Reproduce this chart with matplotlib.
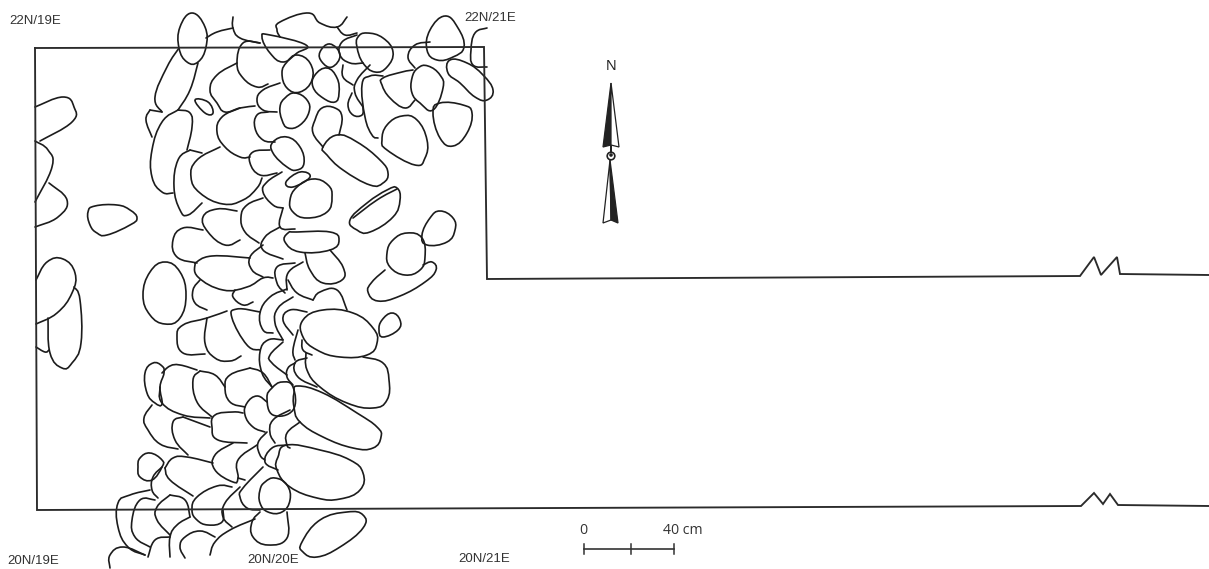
import matplotlib
matplotlib.use("Agg")
import matplotlib.pyplot as plt
from matplotlib.path import Path
from matplotlib.patches import PathPatch, Circle, Polygon

plt.rcParams['font.family'] = ['Liberation Sans', 'DejaVu Sans']

frame_line = [(35, 48), (484, 47), (487, 279), (1080, 276), (1094, 257), (1101, 275),
              (1117, 257), (1120, 274), (1209, 275)]
frame_left = [(35, 48), (37, 510), (1081, 506), (1094, 493), (1103, 504), (1110, 494),
              (1118, 505), (1209, 506)]

closed_stones = [
    [(192, 13), (205, 27), (206, 47), (198, 62), (187, 62), (179, 48), (180, 27)],
    [(262, 37), (270, 35), (306, 45), (297, 53), (283, 62), (270, 53)],
    [(297, 55), (310, 63), (312, 80), (300, 92), (287, 88), (282, 73), (287, 62)],
    [(330, 44), (340, 55), (332, 67), (322, 62), (320, 52)],
    [(367, 33), (383, 38), (393, 52), (387, 67), (375, 72), (363, 63), (357, 47), (358, 37)],
    [(327, 68), (337, 78), (339, 93), (335, 102), (323, 98), (313, 87), (315, 75)],
    [(428, 66), (440, 75), (443, 88), (433, 110), (420, 103), (412, 93), (412, 78), (418, 68)],
    [(445, 16), (458, 28), (464, 47), (453, 57), (437, 60), (427, 50), (430, 30)],
    [(450, 60), (467, 63), (483, 75), (493, 90), (487, 100), (475, 97), (460, 83), (448, 73)],
    [(433, 113), (440, 103), (463, 105), (472, 113), (467, 133), (453, 146), (440, 138)],
    [(402, 116), (417, 120), (427, 140), (425, 158), (415, 165), (387, 150), (382, 140), (387, 125)],
    [(337, 135), (357, 142), (380, 160), (388, 173), (383, 183), (370, 185), (343, 170), (327, 155), (323, 147)],
    [(295, 93), (307, 100), (309, 112), (300, 125), (288, 128), (282, 120), (280, 107), (285, 98)],
    [(195, 100), (208, 102), (213, 113), (205, 113)],
    [(287, 137), (300, 147), (304, 163), (297, 170), (287, 167), (273, 153), (273, 142)],
    [(300, 172), (310, 177), (293, 187), (286, 182)],
    [(313, 179), (328, 185), (332, 197), (327, 212), (307, 218), (293, 212), (290, 200), (297, 187)],
    [(88, 212), (95, 206), (117, 205), (130, 210), (137, 218), (130, 225), (107, 235), (97, 233), (90, 225)],
    [(397, 188), (400, 200), (393, 217), (370, 232), (357, 230), (350, 220), (367, 203), (387, 190)],
    [(440, 211), (453, 218), (455, 230), (447, 242), (427, 245), (422, 235), (430, 218)],
    [(407, 233), (422, 238), (425, 257), (420, 270), (405, 275), (390, 267), (387, 253), (393, 240)],
    [(297, 232), (330, 232), (339, 240), (330, 250), (300, 252), (285, 242), (288, 233)],
    [(165, 262), (180, 272), (186, 295), (180, 318), (165, 324), (150, 315), (143, 295), (150, 272)],
    [(323, 310), (353, 313), (373, 328), (377, 343), (367, 355), (340, 357), (317, 350), (303, 337), (303, 320)],
    [(392, 313), (400, 320), (398, 330), (383, 337), (379, 330), (382, 320)],
    [(153, 363), (162, 366), (164, 373), (160, 387), (162, 404), (155, 403), (147, 393), (145, 373)],
    [(282, 382), (293, 387), (293, 410), (273, 415), (267, 398), (272, 388)],
    [(298, 386), (323, 393), (357, 413), (377, 427), (381, 437), (373, 448), (353, 448), (323, 437), (300, 422), (294, 407), (294, 393)],
    [(287, 445), (320, 450), (350, 460), (363, 473), (360, 490), (340, 499), (317, 498), (290, 487), (277, 470), (278, 457)],
    [(150, 453), (162, 460), (162, 467), (152, 480), (140, 477), (138, 467), (140, 458)],
    [(275, 478), (287, 485), (290, 500), (282, 512), (268, 512), (260, 503), (260, 490), (265, 482)],
    [(347, 512), (363, 515), (363, 528), (340, 547), (317, 557), (303, 552), (302, 542), (320, 520)],
]

open_arcs = [
    [(179, 48), (167, 67), (155, 97), (162, 112)],
    [(198, 63), (190, 90), (178, 110)],
    [(206, 38), (217, 32), (233, 28)],
    [(233, 17), (233, 28), (240, 38), (260, 43)],
    [(260, 43), (243, 43), (237, 63), (243, 78), (257, 87), (268, 84)],
    [(280, 37), (277, 30), (280, 22), (308, 13), (320, 23), (337, 27), (347, 17)],
    [(337, 27), (345, 35), (357, 33)],
    [(357, 35), (342, 42), (340, 55), (350, 63), (363, 63)],
    [(343, 65), (343, 77), (353, 85)],
    [(352, 93), (348, 105), (353, 115), (362, 115), (363, 107)],
    [(370, 65), (357, 80), (355, 93), (363, 107)],
    [(383, 76), (370, 76), (362, 85), (365, 117), (372, 135), (378, 138)],
    [(413, 70), (402, 72), (383, 78), (382, 85), (390, 98), (405, 108), (415, 100)],
    [(430, 42), (415, 45), (408, 57), (415, 68)],
    [(487, 28), (475, 33), (471, 50), (473, 65), (487, 67)],
    [(323, 147), (313, 133), (315, 120), (322, 108), (335, 108), (342, 117), (339, 135)],
    [(280, 83), (263, 90), (257, 100), (263, 110), (277, 112)],
    [(237, 63), (217, 75), (210, 90), (217, 103), (225, 112), (240, 108), (255, 106)],
    [(240, 108), (222, 117), (217, 132), (225, 147), (240, 157), (250, 157)],
    [(268, 112), (257, 115), (255, 128), (263, 140), (275, 142)],
    [(270, 150), (253, 152), (250, 163), (260, 175), (277, 173)],
    [(178, 110), (162, 122), (152, 150), (152, 177), (162, 192), (173, 193)],
    [(178, 110), (190, 113), (192, 127), (187, 150)],
    [(150, 110), (146, 120), (152, 137)],
    [(150, 110), (162, 112)],
    [(190, 150), (178, 160), (174, 187), (180, 210), (188, 215), (202, 203)],
    [(190, 150), (202, 153)],
    [(220, 147), (197, 160), (191, 177), (200, 193), (223, 204), (243, 200), (257, 188), (262, 178)],
    [(282, 172), (267, 182), (263, 192), (273, 205), (283, 208)],
    [(353, 218), (377, 200), (397, 189)],
    [(423, 265), (432, 262), (436, 270), (425, 282), (400, 296), (378, 301), (368, 292), (372, 282), (385, 270)],
    [(237, 211), (217, 209), (203, 217), (208, 232), (225, 245), (240, 240)],
    [(203, 230), (183, 228), (173, 240), (177, 257), (197, 263)],
    [(195, 263), (212, 256), (250, 258)],
    [(195, 263), (198, 277), (223, 290), (247, 287), (263, 278), (273, 278)],
    [(263, 198), (247, 205), (241, 217), (245, 232), (259, 243)],
    [(283, 208), (280, 227), (295, 229)],
    [(280, 227), (265, 237), (263, 250), (283, 259)],
    [(263, 245), (250, 257), (252, 270), (263, 277)],
    [(330, 250), (343, 267), (342, 280), (323, 283), (310, 270), (305, 253)],
    [(303, 262), (288, 273), (287, 290)],
    [(295, 263), (277, 267), (277, 283), (285, 293)],
    [(200, 280), (193, 290), (195, 303), (207, 310)],
    [(235, 290), (233, 297), (243, 305), (253, 302)],
    [(287, 289), (270, 297), (260, 313), (263, 330), (273, 333)],
    [(293, 297), (278, 308), (275, 323), (283, 340)],
    [(288, 280), (297, 293), (313, 300)],
    [(313, 300), (320, 292), (337, 290), (347, 310)],
    [(307, 312), (290, 310), (283, 320), (293, 335)],
    [(363, 357), (383, 363), (389, 380), (387, 400), (373, 408), (347, 403), (320, 387), (307, 370), (306, 353)],
    [(298, 330), (293, 350), (295, 360)],
    [(302, 340), (303, 350), (312, 355)],
    [(307, 358), (295, 363), (298, 377), (317, 387)],
    [(295, 363), (288, 368), (287, 377), (293, 385)],
    [(283, 340), (268, 340), (260, 352), (262, 373), (272, 387)],
    [(283, 342), (270, 355), (272, 363), (287, 375)],
    [(227, 311), (207, 318), (183, 325), (177, 337), (183, 353), (205, 354)],
    [(207, 318), (205, 343), (215, 358), (230, 361), (241, 356)],
    [(260, 312), (237, 309), (232, 318), (247, 345), (260, 350)],
    [(250, 368), (230, 375), (225, 387), (230, 402), (245, 407)],
    [(250, 368), (263, 373), (272, 387)],
    [(162, 373), (170, 366), (180, 365), (197, 370)],
    [(160, 387), (162, 403), (183, 415), (210, 418)],
    [(200, 371), (193, 380), (197, 402), (212, 417)],
    [(200, 371), (215, 375), (225, 387)],
    [(267, 402), (257, 396), (247, 403), (245, 415), (253, 427), (265, 432)],
    [(300, 422), (287, 433), (287, 445), (290, 448)],
    [(290, 410), (273, 420), (270, 433), (275, 443)],
    [(267, 432), (258, 443), (260, 455), (265, 460)],
    [(287, 445), (272, 448), (265, 462), (278, 470)],
    [(152, 405), (144, 418), (148, 430), (160, 444), (178, 449)],
    [(183, 417), (173, 422), (175, 440), (188, 455)],
    [(183, 417), (210, 427)],
    [(243, 413), (233, 412), (215, 415), (212, 427), (218, 440), (247, 443)],
    [(233, 443), (215, 455), (215, 470), (233, 482), (238, 478), (238, 460), (257, 445)],
    [(238, 478), (245, 480)],
    [(165, 468), (173, 458), (187, 457), (213, 463)],
    [(165, 468), (170, 480), (193, 496)],
    [(162, 467), (153, 477), (152, 490), (158, 498)],
    [(150, 490), (130, 495), (118, 503), (118, 527), (128, 547), (145, 555)],
    [(155, 500), (140, 500), (132, 520), (135, 537), (150, 547)],
    [(170, 495), (157, 507), (157, 520), (170, 535)],
    [(170, 495), (185, 500), (190, 517)],
    [(232, 487), (217, 486), (197, 497), (192, 510), (197, 520), (208, 525), (222, 522), (223, 510)],
    [(240, 487), (225, 503), (223, 517), (232, 527)],
    [(263, 467), (243, 488), (240, 497), (247, 508), (260, 510)],
    [(260, 512), (252, 522), (253, 537), (268, 545), (287, 538), (287, 512)],
    [(255, 519), (230, 530), (215, 542), (210, 555)],
    [(215, 537), (200, 531), (185, 537), (180, 547), (185, 558)],
    [(190, 517), (177, 525), (170, 537), (170, 557)],
    [(170, 537), (155, 540), (148, 557)],
    [(145, 555), (123, 547), (110, 555), (110, 568)],
    # stones cut by the west edge
    [(35, 107), (63, 97), (74, 107), (72, 122), (40, 141)],
    [(35, 141), (48, 150), (52, 167), (35, 202)],
    [(49, 183), (67, 200), (58, 217), (35, 227)],
    [(36, 280), (47, 262), (63, 259), (75, 273), (72, 293), (57, 313), (36, 324)],
    [(74, 287), (80, 300), (81, 343), (72, 363), (62, 368), (50, 353), (48, 318)],
    [(36, 347), (45, 352), (49, 350)],
]

grid_labels = ["22N/19E", "22N/21E", "20N/19E", "20N/20E", "20N/21E"]
grid_label_x = [9, 464, 7, 247, 458]
grid_label_y = [21, 18, 561, 560, 559]

scale_ticks = [584, 631, 674]
scale_labels = ["0", "40 cm"]

arrow_top_black = [(611, 83), (603, 147), (611, 145), (611, 152)]
arrow_top_white = [(611, 83), (619, 147), (611, 145)]
arrow_low_white = [(610, 160), (603, 223), (611, 220)]
arrow_low_black = [(610, 160), (618, 223), (611, 220)]

INK = '#2b2b2b'
TENSION = 4.6


def smooth_path(points, closed):
    # catmull-rom through the traced points, written as bezier segments
    n = len(points)
    verts = [points[0]]
    codes = [Path.MOVETO]
    for i in range(n if closed else n - 1):
        if closed:
            p0, p1, p2, p3 = points[i - 1], points[i], points[(i + 1) % n], points[(i + 2) % n]
        else:
            p0, p1, p2, p3 = points[max(i - 1, 0)], points[i], points[i + 1], points[min(i + 2, n - 1)]
        c1 = (p1[0] + (p2[0] - p0[0]) / TENSION, p1[1] + (p2[1] - p0[1]) / TENSION)
        c2 = (p2[0] - (p3[0] - p1[0]) / TENSION, p2[1] - (p3[1] - p1[1]) / TENSION)
        verts.extend([c1, c2, p2])
        codes.extend([Path.CURVE4] * 3)
    return Path(verts, codes)


fig = plt.figure(figsize=(12.09, 5.69), dpi=100)
ax = fig.add_axes([0, 0, 1, 1])
ax.set_xlim(0, 1209)
ax.set_ylim(569, 0)
ax.axis('off')

for line in (frame_line, frame_left):
    ax.plot([p[0] for p in line], [p[1] for p in line], color=INK, lw=1.35, solid_joinstyle='miter')

for stone in closed_stones:
    ax.add_patch(PathPatch(smooth_path(stone, True), fill=False, edgecolor='#1c1c1c', lw=1.2))
for arc in open_arcs:
    ax.add_patch(PathPatch(smooth_path(arc, False), fill=False, edgecolor='#1c1c1c', lw=1.2, capstyle='round'))

for label, x, y in zip(grid_labels, grid_label_x, grid_label_y):
    ax.text(x, y, label, fontsize=9.5, color='#333333', ha='left', va='center')

# north arrow
ax.text(611, 66, "N", fontsize=10.5, color='#222222', ha='center', va='center')
ax.add_patch(Polygon(arrow_top_black, closed=True, facecolor='#222222', edgecolor='#222222', lw=0.9))
ax.add_patch(Polygon(arrow_top_white, closed=True, facecolor='white', edgecolor='#222222', lw=0.9))
ax.add_patch(Polygon(arrow_low_white, closed=True, facecolor='white', edgecolor='#222222', lw=0.9))
ax.add_patch(Polygon(arrow_low_black, closed=True, facecolor='#222222', edgecolor='#222222', lw=0.9))
ax.add_patch(Circle((611, 156), 3.8, facecolor='white', edgecolor='#222222', lw=1.2, zorder=5))
ax.add_patch(Circle((611, 155), 1.8, facecolor='#222222', edgecolor='none', zorder=6))

# scale bar
ax.plot([scale_ticks[0], scale_ticks[-1]], [549, 549], color='#333333', lw=1.2)
for x in scale_ticks:
    ax.plot([x, x], [544, 554], color='#333333', lw=1.1)
ax.text(583, 531, scale_labels[0], fontsize=10.2, color='#333333', ha='center', va='center', family='Open Sans')
ax.text(663, 531, scale_labels[1], fontsize=10.2, color='#333333', ha='left', va='center', family='Open Sans')

fig.savefig('out.png', dpi=100)
